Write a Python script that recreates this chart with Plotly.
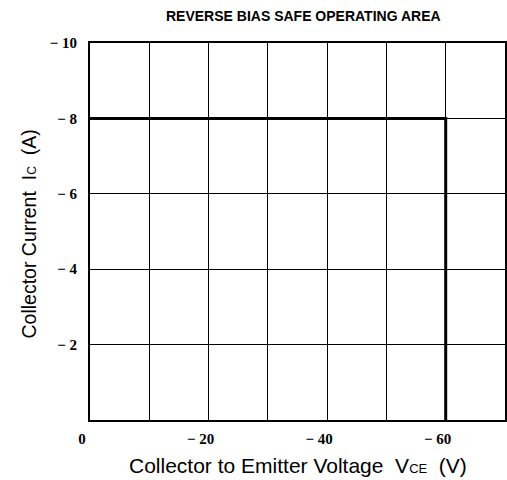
import plotly.graph_objects as go

# Data
soa_vce = [0, -60, -60]
soa_ic = [-8, -8, 0]

x_tickvals = [0, -10, -20, -30, -40, -50, -60, -70]
x_ticktext = ["0", "", "− 20", "", "− 40", "", "− 60", ""]
y_tickvals = [0, -2, -4, -6, -8, -10]
y_ticktext = ["", "− 2", "− 4", "− 6", "− 8", "− 10"]

tick_font = dict(family="Liberation Serif", size=15, color="black", weight="bold")

fig = go.Figure()
fig.add_trace(go.Scatter(x=soa_vce, y=soa_ic, mode="lines",
                         line=dict(color="black", width=3), showlegend=False,
                         hoverinfo="skip"))

fig.update_layout(
    width=507, height=480, autosize=False,
    margin=dict(l=90, r=2, t=43, b=60, autoexpand=False),
    paper_bgcolor="white", plot_bgcolor="white",
    annotations=[
        dict(text="REVERSE BIAS SAFE OPERATING AREA", xref="paper", yref="paper",
             x=0.5, y=1, xshift=6, yshift=27, yanchor="middle", xanchor="center",
             showarrow=False,
             font=dict(family="Liberation Sans", size=14, color="black",
                       weight="bold")),
        dict(text="Collector to Emitter Voltage  V<span style='font-size:13px'>CE</span>  (V)",
             xref="paper", yref="paper", x=0.5, y=0, xshift=0, yshift=-45,
             yanchor="middle", xanchor="center", showarrow=False,
             font=dict(family="Liberation Sans", size=21, color="black")),
        dict(text="Collector Current  I<span style='font-size:12px'>C</span>  (A)",
             xref="paper", yref="paper", x=0, y=0.5, xshift=-62, yshift=-3,
             xanchor="center", yanchor="middle", textangle=-90,
             showarrow=False,
             font=dict(family="Liberation Sans", size=19.5, color="black")),
    ],
)

fig.update_xaxes(range=[0, -70], tickvals=x_tickvals, ticktext=x_ticktext,
                 showgrid=True, gridcolor="black", gridwidth=1,
                 showline=True, linecolor="black", linewidth=2, mirror=True,
                 zeroline=False, ticks="", ticklabelstandoff=4, ticklabelshift=8,
                 tickfont=tick_font, fixedrange=True)
fig.update_yaxes(range=[0, -10], tickvals=y_tickvals, ticktext=y_ticktext,
                 showgrid=True, gridcolor="black", gridwidth=1,
                 showline=True, linecolor="black", linewidth=2, mirror=True,
                 zeroline=False, ticks="", ticklabelstandoff=8,
                 tickfont=tick_font, fixedrange=True)

fig.write_html("out.html", config={"displayModeBar": False},
               post_script="document.body.style.margin='0px';document.body.style.overflow='hidden';")
